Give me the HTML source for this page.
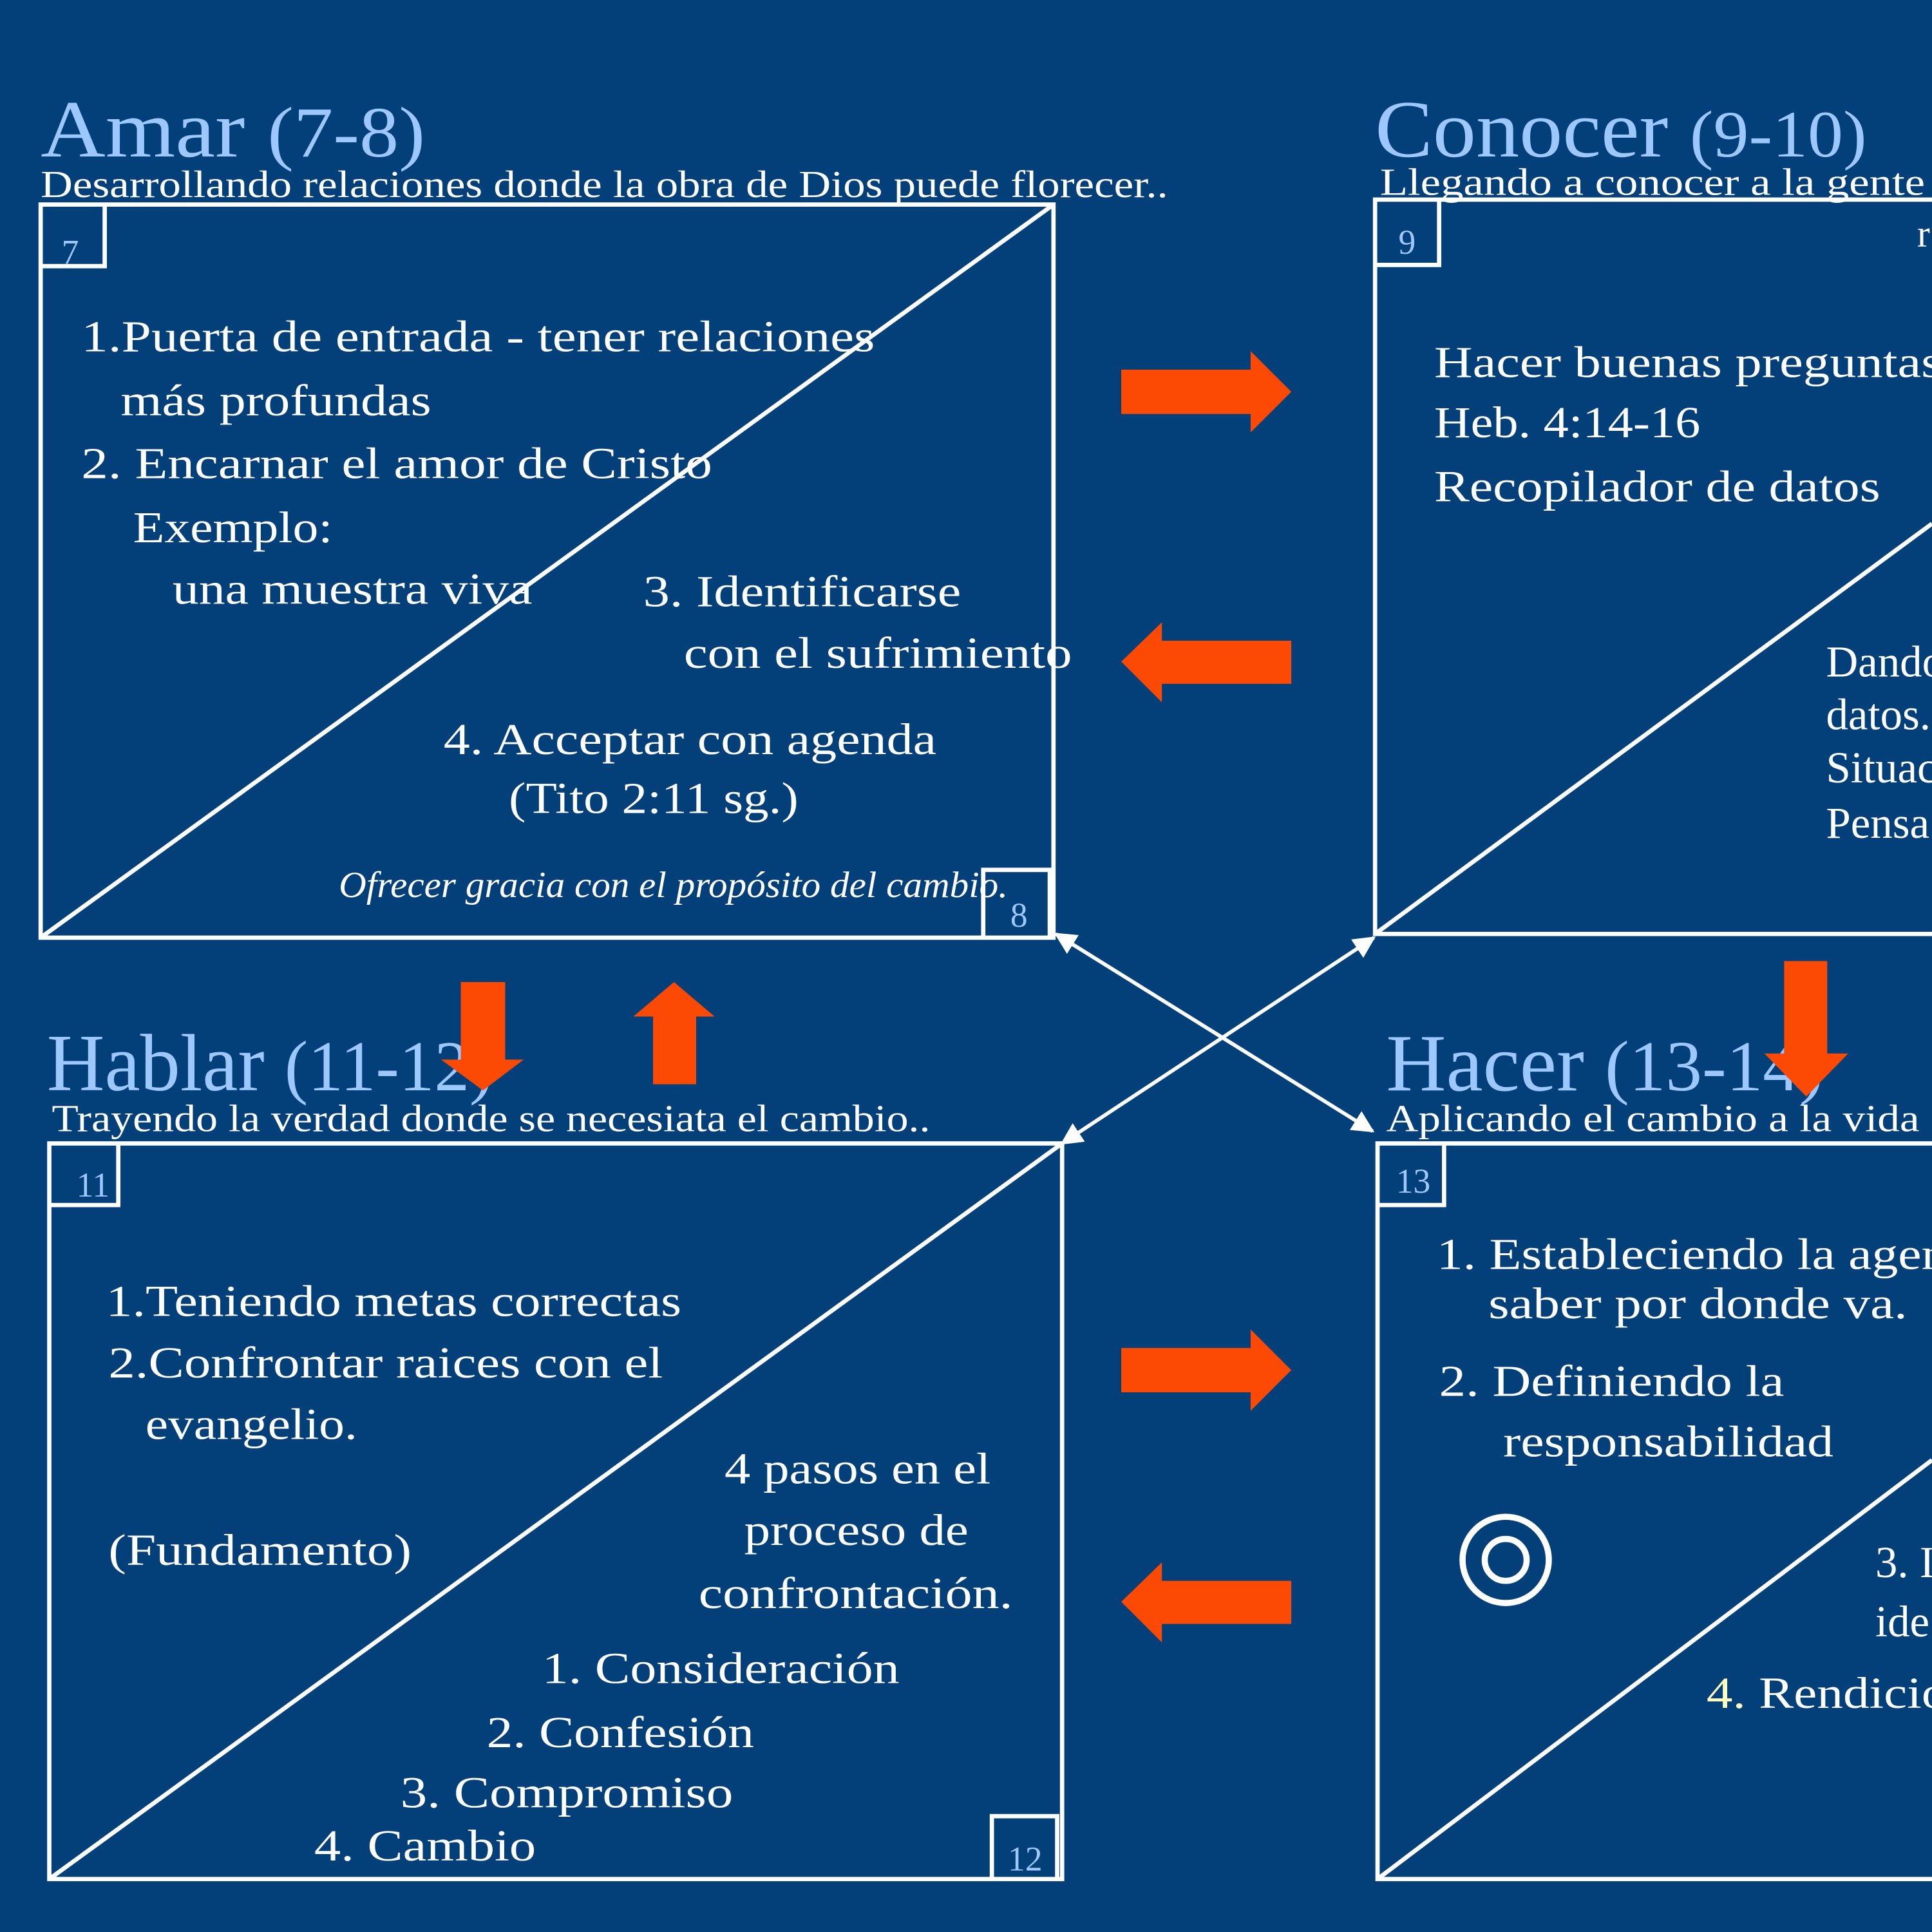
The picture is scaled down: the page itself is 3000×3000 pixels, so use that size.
<!DOCTYPE html>
<html><head><meta charset="utf-8"><style>
html,body{margin:0;padding:0;background:#033f78;}
svg{display:block;}
text{font-family:"Liberation Serif",serif;}
.t{fill:#fff;font-size:36px;}
.h{fill:#9cc8ff;font-size:66px;}
.s{fill:#fff;font-size:31px;}
.n{fill:#9cc8ff;font-size:28px;}
</style></head><body>
<svg width="3000" height="3000" viewBox="0 0 1568 1568" xmlns="http://www.w3.org/2000/svg">
<defs>
<marker id="ah" viewBox="0 0 10 10" refX="9" refY="5" markerWidth="6" markerHeight="6" orient="auto-start-reverse"><path d="M0,0 L10,5 L0,10 z" fill="#fff"/></marker>
</defs>
<rect width="1568" height="1568" fill="#033f78"/>
<g fill="none" stroke="#fff" stroke-width="3.5">
<rect x="33" y="166" width="822" height="595"/>
<line x1="33" y1="761" x2="855" y2="166"/>
<polyline points="33,216 85,216 85,166"/>
<polyline points="798,761 798,706 852,706 852,761"/>
<rect x="1116" y="162" width="500" height="596"/>
<line x1="1116" y1="758" x2="1568" y2="425"/>
<polyline points="1116,215 1168,215 1168,162"/>
<rect x="40" y="928" width="822" height="597"/>
<line x1="40" y1="1525" x2="862" y2="928"/>
<polyline points="40,978 96,978 96,928"/>
<polyline points="805,1525 805,1474 858,1474 858,1525"/>
<rect x="1118" y="928" width="500" height="597"/>
<line x1="1118" y1="1525" x2="1568" y2="1185"/>
<polyline points="1118,978 1172,978 1172,928"/>
<line x1="857" y1="758" x2="1114" y2="918" marker-start="url(#ah)" marker-end="url(#ah)" stroke-width="3"/>
<line x1="1115" y1="761" x2="862" y2="928" marker-start="url(#ah)" marker-end="url(#ah)" stroke-width="3"/>
<circle cx="1222" cy="1266" r="35" stroke-width="5"/>
<circle cx="1222" cy="1266" r="17" stroke-width="5"/>
</g>
<g fill="#fc4a05">
<polygon points="910,300 1015,300 1015,285 1048,318 1015,351 1015,336 910,336"/>
<polygon points="1048,520 943,520 943,505 910,537 943,570 943,555 1048,555"/>
<polygon points="910,1094 1015,1094 1015,1079 1048,1112 1015,1145 1015,1130 910,1130"/>
<polygon points="1048,1283 943,1283 943,1268 910,1300 943,1333 943,1318 1048,1318"/>
<polygon points="530,880 565,880 565,825 580,825 547,797 514,825 530,825"/>
</g>
<text class="h" x="33" y="127" textLength="312" lengthAdjust="spacingAndGlyphs">Amar <tspan font-size="58">(7-8)</tspan></text>
<text class="s" x="33" y="160" textLength="915" lengthAdjust="spacingAndGlyphs">Desarrollando relaciones donde la obra de Dios puede florecer..</text>
<text class="h" x="1116" y="127" textLength="399" lengthAdjust="spacingAndGlyphs">Conocer <tspan font-size="54">(9-10)</tspan></text>
<text class="s" x="1120" y="158" textLength="470" lengthAdjust="spacingAndGlyphs">Llegando a conocer a la gente y</text>
<text class="s" x="1556" y="200">r</text>
<text class="h" x="38" y="885" textLength="362" lengthAdjust="spacingAndGlyphs">Hablar <tspan font-size="58">(11-12)</tspan></text>
<text class="s" x="42" y="918" textLength="713" lengthAdjust="spacingAndGlyphs">Trayendo la verdad donde se necesiata el cambio..</text>
<text class="h" x="1125" y="885" textLength="355" lengthAdjust="spacingAndGlyphs">Hacer <tspan font-size="58">(13-14)</tspan></text>
<text class="s" x="1125" y="918" textLength="460" lengthAdjust="spacingAndGlyphs">Aplicando el cambio a la vida d</text>
<g fill="#fc4a05"><polygon points="1448,780 1483,780 1483,855 1500,855 1466,890 1432,855 1448,855"/><polygon points="374,797 410,797 410,860 425,860 392,885 358,860 374,860"/></g>
<text class="n" x="50" y="214">7</text>
<text class="n" x="820" y="752">8</text>
<text class="n" x="1135" y="206">9</text>
<text class="n" x="62" y="971">11</text>
<text class="n" x="818" y="1518">12</text>
<text class="n" x="1133" y="968">13</text>
<g lengthAdjust="spacingAndGlyphs">
<text class="t" x="66" y="285" textLength="644" lengthAdjust="spacingAndGlyphs">1.Puerta de entrada - tener relaciones</text>
<text class="t" x="98" y="337" textLength="252" lengthAdjust="spacingAndGlyphs">más profundas</text>
<text class="t" x="66" y="388" textLength="512" lengthAdjust="spacingAndGlyphs">2. Encarnar el amor de Cristo</text>
<text class="t" x="108" y="440" textLength="162" lengthAdjust="spacingAndGlyphs">Exemplo:</text>
<text class="t" x="140" y="490" textLength="292" lengthAdjust="spacingAndGlyphs">una muestra viva</text>
<text class="t" x="522" y="492" textLength="258" lengthAdjust="spacingAndGlyphs">3. Identificarse</text>
<text class="t" x="555" y="542" textLength="315" lengthAdjust="spacingAndGlyphs">con el sufrimiento</text>
<text class="t" x="360" y="612" textLength="400" lengthAdjust="spacingAndGlyphs">4. Acceptar con agenda</text>
<text class="t" x="413" y="660" textLength="235" lengthAdjust="spacingAndGlyphs">(Tito 2:11 sg.)</text>
<text x="275" y="728" style="fill:#fff;font-size:30px;font-style:italic" textLength="543" lengthAdjust="spacingAndGlyphs">Ofrecer gracia con el propósito del cambio.</text>
<text class="t" x="1164" y="306" font-size="38" textLength="412" lengthAdjust="spacingAndGlyphs">Hacer buenas preguntas</text>
<text class="t" x="1164" y="355" font-size="38" textLength="216" lengthAdjust="spacingAndGlyphs">Heb. 4:14-16</text>
<text class="t" x="1164" y="407" font-size="38" textLength="362" lengthAdjust="spacingAndGlyphs">Recopilador de datos</text>
<text class="t" x="1482" y="549" font-size="32">Dando</text>
<text class="t" x="1482" y="592" font-size="32">datos.</text>
<text class="t" x="1482" y="635" font-size="32">Situac</text>
<text class="t" x="1482" y="680" font-size="32">Pensa</text>
<text class="t" x="86" y="1068" textLength="467" lengthAdjust="spacingAndGlyphs">1.Teniendo metas correctas</text>
<text class="t" x="88" y="1118" textLength="450" lengthAdjust="spacingAndGlyphs">2.Confrontar raices con el</text>
<text class="t" x="118" y="1168" textLength="172" lengthAdjust="spacingAndGlyphs">evangelio.</text>
<text class="t" x="88" y="1270" textLength="246" lengthAdjust="spacingAndGlyphs">(Fundamento)</text>
<text class="t" x="588" y="1204" textLength="216" lengthAdjust="spacingAndGlyphs">4 pasos en el</text>
<text class="t" x="604" y="1254" textLength="182" lengthAdjust="spacingAndGlyphs">proceso de</text>
<text class="t" x="567" y="1305" textLength="255" lengthAdjust="spacingAndGlyphs">confrontación.</text>
<text class="t" x="440" y="1366" textLength="290" lengthAdjust="spacingAndGlyphs">1. Consideración</text>
<text class="t" x="395" y="1418" textLength="217" lengthAdjust="spacingAndGlyphs">2. Confesión</text>
<text class="t" x="325" y="1467" textLength="270" lengthAdjust="spacingAndGlyphs">3. Compromiso</text>
<text class="t" x="255" y="1510" textLength="180" lengthAdjust="spacingAndGlyphs">4. Cambio</text>
<text class="t" x="1166" y="1030" textLength="455" lengthAdjust="spacingAndGlyphs">1. Estableciendo la agenda</text>
<text class="t" x="1208" y="1070" textLength="340" lengthAdjust="spacingAndGlyphs">saber por donde va.</text>
<text class="t" x="1168" y="1133" textLength="280" lengthAdjust="spacingAndGlyphs">2. Definiendo la</text>
<text class="t" x="1220" y="1182" textLength="268" lengthAdjust="spacingAndGlyphs">responsabilidad</text>
<text class="t" x="1522" y="1280">3. I</text>
<text class="t" x="1522" y="1328">ide</text>
<text class="t" x="1385" y="1386" textLength="217" lengthAdjust="spacingAndGlyphs"><tspan fill="#ffffc0">4.</tspan> Rendicion</text>
</g>
</svg>
</body></html>
